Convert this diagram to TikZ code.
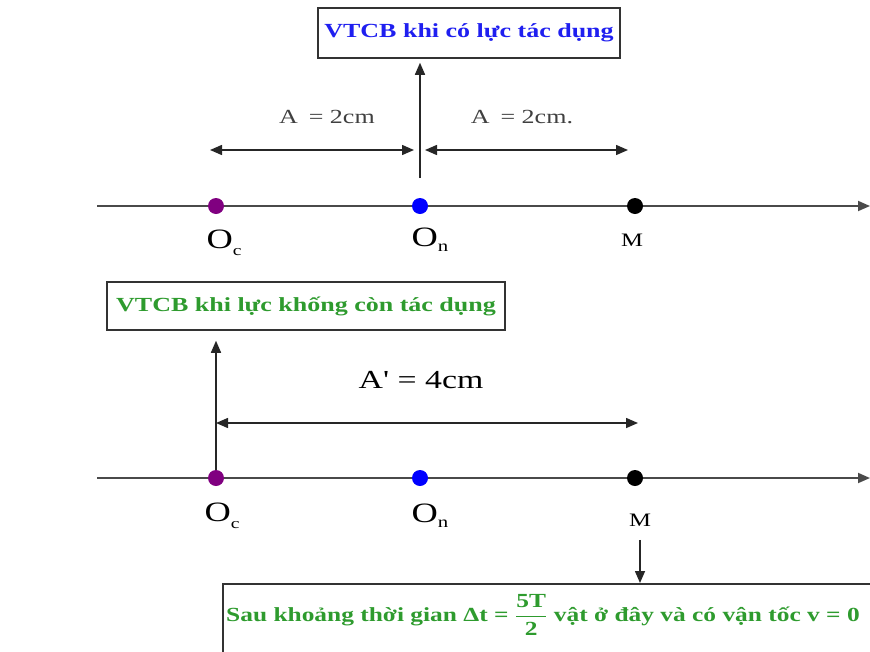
\documentclass[tikz,border=0pt]{standalone}
\usepackage{fontspec}
\usepackage{amsmath}
\usepackage{graphicx}
\setmainfont{Liberation Serif}
\usetikzlibrary{positioning,arrows.meta}
\definecolor{purpc}{HTML}{800080}
\definecolor{bluec}{HTML}{0000FF}
\definecolor{titlec}{HTML}{1F1FF0}
\definecolor{greenc}{HTML}{2E9B2E}
\definecolor{axisc}{HTML}{4A4A4A}
\tikzset{
  dot/.style={circle,inner sep=0pt,minimum size=16pt},
  tip/.style={-{Triangle[length=12pt,width=10pt]},line width=1.5pt,draw=black!85},
  dimarr/.style={{Triangle[length=12pt,width=10pt]}-{Triangle[length=12pt,width=10pt]},line width=1.5pt,draw=black!85},
  titlebox/.style={draw=black!80,line width=1.5pt,fill=white,inner sep=4pt,font=\bfseries\fontsize{20}{22}\selectfont},
  ptlabel/.style={font=\fontsize{28}{28}\selectfont},
}
% text in the picture is drawn wide
\newcommand{\wide}[1]{\scalebox{1.3}[1]{#1}}
% one axis with the three points, #1 = suffix, #2 = y
\newcommand{\pointrow}[2]{%
  \coordinate (ax#1) at (97,#2);
  \coordinate (axend#1) at (870,#2);
  \draw[-{Triangle[length=12pt,width=10pt]},line width=1.8pt,draw=axisc] (ax#1) -- (axend#1);
  \node[dot,fill=purpc] (Oc#1) at (216,#2) {};
  \node[dot,fill=bluec] (On#1) at (420,#2) {};
  \node[dot,fill=black] (M#1) at (635,#2) {};
}

\begin{document}
\begin{tikzpicture}[x=1pt,y=-1pt]
  \clip (0,0) rectangle (870,651);
  \useasboundingbox (0,0) rectangle (870,651);

  % first row: force still acting
  \pointrow{1}{206}
  \node[ptlabel] (lOc1) at (224,243) {\wide{O\raisebox{-0.55ex}{\fontsize{15}{15}\selectfont c}}};
  \node[ptlabel] (lOn1) at (430,240) {\wide{O\raisebox{-0.4ex}{\fontsize{16}{16}\selectfont n}}};
  \node[font=\fontsize{19}{20}\selectfont] (lM1) at (632,240) {\wide{M}};

  \node[titlebox,text=titlec,minimum width=302pt,minimum height=50pt] (vtcb1) at (469,33) {\wide{VTCB khi có lực tác dụng}};
  \coordinate (up1) at (420,178);
  \draw[tip] (up1) -- ([yshift=-4pt]vtcb1.south -| up1);

  \coordinate (d1a) at (210,150);
  \coordinate (d1b) at (414,150);
  \coordinate (d2a) at (425,150);
  \coordinate (d2b) at (628,150);
  \draw[dimarr] (d1a) -- (d1b);
  \draw[dimarr] (d2a) -- (d2b);
  \node[font=\fontsize{20}{22}\selectfont,text=black!75] (amp1) at (327,117) {\wide{A\, = 2cm}};
  \node[font=\fontsize{20}{22}\selectfont,text=black!75] (amp2) at (522,117) {\wide{A\, = 2cm.}};

  % second row: force removed
  \pointrow{2}{478}
  \node[ptlabel] (lOc2) at (222,516) {\wide{O\raisebox{-0.55ex}{\fontsize{15}{15}\selectfont c}}};
  \node[ptlabel] (lOn2) at (430,516) {\wide{O\raisebox{-0.4ex}{\fontsize{16}{16}\selectfont n}}};
  \node[font=\fontsize{19}{20}\selectfont] (lM2) at (640,520) {\wide{M}};

  \node[titlebox,text=greenc,minimum width=398pt,minimum height=48pt] (vtcb2) at (306,306) {\wide{VTCB khi lực khống còn tác dụng}};
  \draw[tip] (Oc2.north) -- ([yshift=-10pt]vtcb2.south -| Oc2);

  \coordinate (d3a) at (216,423);
  \coordinate (d3b) at (638,423);
  \draw[dimarr] (d3a) -- (d3b);
  \node[font=\fontsize{26}{28}\selectfont] (amp3) at (421,380) {\wide{A\textquotesingle\ = 4cm}};

  \node[draw=black!80,line width=1.5pt,minimum width=680pt,minimum height=100pt,anchor=north west] (notebox) at (222,583) {};
  \node[font=\bfseries\fontsize{20}{22}\selectfont,text=greenc] (note) at (543,615)
    {\scalebox{1.27}[1]{Sau khoảng thời gian Δt = $\dfrac{\textbf{5T}}{\textbf{2}}$ vật ở đây và có vận tốc v = 0}};
  \draw[tip] ([yshift=-10pt]lM2.south) -- (lM2 |- notebox.north);
\end{tikzpicture}
\end{document}
